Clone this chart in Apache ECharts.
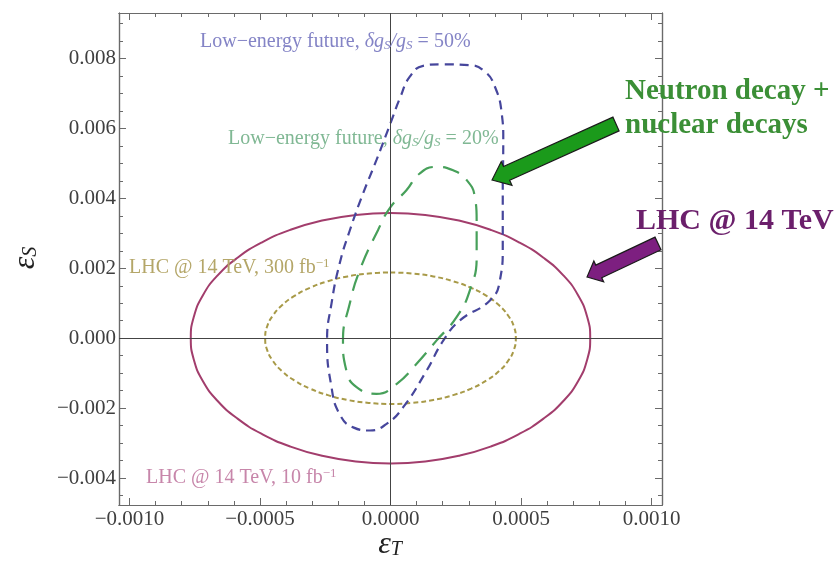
<!DOCTYPE html>
<html><head><meta charset="utf-8">
<script src="https://cdn.jsdelivr.net/npm/echarts@6/dist/echarts.min.js"></script>
<style>html,body{margin:0;padding:0;background:#fff}#c{width:840px;height:566px}</style>
</head><body><div id="c"></div>
<script>
// ---- axis ticks / labels ----
const xMajorTicks = [-0.001, -0.0005, 0, 0.0005, 0.001];
const xTickLabels = ["\u22120.0010", "\u22120.0005", "0.0000", "0.0005", "0.0010"];
const xMinorTicks = [-0.001,-0.0009,-0.0008,-0.0007,-0.0006,-0.0005,-0.0004,-0.0003,-0.0002,-0.0001,0,
  0.0001,0.0002,0.0003,0.0004,0.0005,0.0006,0.0007,0.0008,0.0009,0.001];
const yMajorTicks = [-0.004, -0.002, 0, 0.002, 0.004, 0.006, 0.008];
const yTickLabels = ["\u22120.004", "\u22120.002", "0.000", "0.002", "0.004", "0.006", "0.008"];
const yMinorTicks = [-0.0045,-0.004,-0.0035,-0.003,-0.0025,-0.002,-0.0015,-0.001,-0.0005,0,
  0.0005,0.001,0.0015,0.002,0.0025,0.003,0.0035,0.004,0.0045,0.005,0.0055,0.006,0.0065,0.007,0.0075,0.008,0.0085,0.009];
const xRange = [-0.00104, 0.00104];
const yRange = [-0.00477, 0.0093];

// ---- contours ----
const lhc10 = [[0,0.00358],[0.000133,0.003526],[0.000262,0.003364],[0.000383,0.0031],[0.000492,0.002742],[0.000586,0.002301],
  [0.000663,0.00179],[0.000719,0.001224],[0.000753,0.000622],[0.000765,0],[0.000753,-0.000622],[0.000719,-0.001224],
  [0.000663,-0.00179],[0.000586,-0.002301],[0.000492,-0.002742],[0.000383,-0.0031],[0.000262,-0.003364],[0.000133,-0.003526],
  [0,-0.00358],[-0.000133,-0.003526],[-0.000262,-0.003364],[-0.000383,-0.0031],[-0.000492,-0.002742],[-0.000586,-0.002301],
  [-0.000663,-0.00179],[-0.000719,-0.001224],[-0.000753,-0.000622],[-0.000765,0],[-0.000753,0.000622],[-0.000719,0.001224],
  [-0.000663,0.00179],[-0.000586,0.002301],[-0.000492,0.002742],[-0.000383,0.0031],[-0.000262,0.003364],[-0.000133,0.003526],
  [0,0.00358]];
const lhc300 = [[0,0.00188],[0.0000833,0.001851],[0.000164,0.001767],[0.00024,0.001628],[0.000309,0.00144],[0.000368,0.001208],
  [0.000416,0.00094],[0.000451,0.000643],[0.000473,0.000326],[0.00048,0],[0.000473,-0.000326],[0.000451,-0.000643],
  [0.000416,-0.00094],[0.000368,-0.001208],[0.000309,-0.00144],[0.00024,-0.001628],[0.000164,-0.001767],[0.0000833,-0.001851],
  [0,-0.00188],[-0.0000833,-0.001851],[-0.000164,-0.001767],[-0.00024,-0.001628],[-0.000309,-0.00144],[-0.000368,-0.001208],
  [-0.000416,-0.00094],[-0.000451,-0.000643],[-0.000473,-0.000326],[-0.00048,0],[-0.000473,0.000326],[-0.000451,0.000643],
  [-0.000416,0.00094],[-0.000368,0.001208],[-0.000309,0.00144],[-0.00024,0.001628],[-0.000164,0.001767],[-0.0000833,0.001851],
  [0,0.00188]];
const lowE50 = [[0.00043,0.0045],[0.00043,0.0036],[0.00043,0.0026],[0.000419,0.00165],[0.000381,0.00108],[0.000266,0.00051],
  [0.000202,-0.00007],[0.000138,-0.00093],[0.000048,-0.00198],[-0.000015,-0.00245],[-0.000079,-0.00264],[-0.000143,-0.00255],
  [-0.000195,-0.00217],[-0.000226,-0.0014],[-0.000243,-0.00007],[-0.000226,0.00099],[-0.000195,0.00213],[-0.000156,0.00308],
  [-0.000105,0.00414],[-0.000054,0.00509],[0,0.00615],[0.000038,0.0069],[0.000074,0.00748],[0.000125,0.00779],
  [0.000189,0.00783],[0.000304,0.00781],[0.000362,0.00762],[0.0004,0.00719],[0.000426,0.00643],[0.000432,0.00566],[0.00043,0.0045]];
const lowE20 = [[0.00033,0.003],[0.00033,0.00232],[0.000304,0.00137],[0.000253,0.0006],[0.000176,-0.00007],[0.0001,-0.00073],
  [0.000023,-0.00131],[-0.000054,-0.00159],[-0.00013,-0.0014],[-0.000169,-0.00093],[-0.000182,-0.00007],[-0.000156,0.00099],
  [-0.000118,0.00194],[-0.000048,0.00309],[0,0.00375],[0.000061,0.00423],[0.000112,0.00471],[0.000176,0.0049],
  [0.00024,0.0048],[0.000292,0.00452],[0.000323,0.00404],[0.00033,0.00337],[0.00033,0.003]];

const SERIF = "'Liberation Serif', 'DejaVu Serif', serif";
const FRAME = '#6a6a6a';

function fmt(vals, labels) {
  return function (v) {
    for (let i = 0; i < vals.length; i++) if (Math.abs(vals[i] - v) < 1e-9) return labels[i];
    return '';
  };
}
function xAx(pos, ticks, len, labels) {
  return {
    type: 'value', gridIndex: 0, position: pos, min: xRange[0], max: xRange[1],
    axisLine: { show: true, onZero: false, lineStyle: { color: FRAME, width: 1.2 } },
    axisTick: { show: true, inside: true, length: len, customValues: ticks, lineStyle: { color: FRAME, width: 1 } },
    axisLabel: labels ? { show: true, customValues: xMajorTicks, formatter: fmt(xMajorTicks, xTickLabels),
      fontFamily: SERIF, fontSize: 21, color: '#3f3f3f', margin: 4 } : { show: false },
    splitLine: { show: false }
  };
}
function yAx(pos, ticks, len, labels) {
  return {
    type: 'value', gridIndex: 0, position: pos, min: yRange[0], max: yRange[1],
    axisLine: { show: true, onZero: false, lineStyle: { color: FRAME, width: 1.2 } },
    axisTick: { show: true, inside: true, length: len, customValues: ticks, lineStyle: { color: FRAME, width: 1 } },
    axisLabel: labels ? { show: true, customValues: yMajorTicks, formatter: fmt(yMajorTicks, yTickLabels),
      fontFamily: SERIF, fontSize: 21, color: '#3f3f3f', margin: 3 } : { show: false },
    splitLine: { show: false }
  };
}
function contour(name, data, color, width, dash, extra) {
  return Object.assign({
    name: name, type: 'line', data: data, showSymbol: false, smooth: 0.5, xAxisIndex: 0, yAxisIndex: 0,
    lineStyle: { color: color, width: width, type: dash }, silent: true
  }, extra || {});
}
function arrow(tip, tail, hw, headW, headL, fill) {
  const dx = tail[0] - tip[0], dy = tail[1] - tip[1], L = Math.hypot(dx, dy);
  const u = [dx / L, dy / L], n = [-u[1], u[0]];
  const b = [tip[0] + u[0] * headL, tip[1] + u[1] * headL];
  const pts = [tip,
    [b[0] + n[0] * headW, b[1] + n[1] * headW], [b[0] + n[0] * hw, b[1] + n[1] * hw],
    [tail[0] + n[0] * hw, tail[1] + n[1] * hw], [tail[0] - n[0] * hw, tail[1] - n[1] * hw],
    [b[0] - n[0] * hw, b[1] - n[1] * hw], [b[0] - n[0] * headW, b[1] - n[1] * headW]];
  return { type: 'polygon', shape: { points: pts }, style: { fill: fill, stroke: '#1a1a1a', lineWidth: 1.2 }, z: 100 };
}
function lbl(x, y, rich, parts) {
  return { type: 'text', x: x, y: y, z: 100, style: { text: parts, rich: rich, textVerticalAlign: 'middle', font: '20px ' + SERIF } };
}
function curveRich(color, fs) {
  const sfs = Math.round(fs * 0.65);
  return {
    n: { fontFamily: SERIF, fontSize: fs, fill: color, color: color },
    i: { fontFamily: SERIF, fontSize: fs, fontStyle: 'italic', fill: color, color: color },
    s: { fontFamily: SERIF, fontSize: sfs, fontStyle: 'italic', fill: color, color: color, padding: [8, 0, 0, 0] },
    p: { fontFamily: SERIF, fontSize: sfs, fill: color, color: color, padding: [0, 0, 8, 0] }
  };
}

const chart = echarts.init(document.getElementById('c'), null, { renderer: 'canvas' });
const option = {
  animation: false,
  backgroundColor: '#ffffff',
  grid: { left: 119, top: 13, width: 543, height: 492, containLabel: false },
  xAxis: [xAx('bottom', xMajorTicks, 7, true), xAx('bottom', xMinorTicks, 4, false),
          xAx('top', xMajorTicks, 7, false), xAx('top', xMinorTicks, 4, false)],
  yAxis: [yAx('left', yMajorTicks, 7, true), yAx('left', yMinorTicks, 4, false),
          yAx('right', yMajorTicks, 7, false), yAx('right', yMinorTicks, 4, false)],
  series: [
    contour('LHC 10', lhc10, '#a23d6c', 2, 'solid', {
      markLine: { silent: true, symbol: 'none', label: { show: false },
        lineStyle: { color: '#444', width: 1, type: 'solid' }, data: [{ xAxis: 0 }, { yAxis: 0 }] }
    }),
    contour('LHC 300', lhc300, '#a89a48', 2, [5, 3]),
    contour('Low-energy 50%', lowE50, '#46469c', 2.2, [9, 6]),
    contour('Low-energy 20%', lowE20, '#47a05a', 2.2, [17, 10])
  ],
  graphic: [
    lbl(200, 42, curveRich('#8484c6', 20), '{n|Low\u2212energy future, }{i|\u03b4g}{s|S}{i|/g}{s|S}{n| = 50%}'),
    lbl(228, 139, curveRich('#80b894', 20), '{n|Low\u2212energy future, }{i|\u03b4g}{s|S}{i|/g}{s|S}{n| = 20%}'),
    lbl(129, 268, curveRich('#b4a668', 20), '{n|LHC @ 14 TeV, 300 fb}{p|\u22121}'),
    lbl(146, 478, curveRich('#c786aa', 20), '{n|LHC @ 14 TeV, 10 fb}{p|\u22121}'),
    { type: 'text', x: 625, y: 92, z: 100, style: { text: 'Neutron decay +', font: 'bold 29px ' + SERIF, fill: '#3b8f36', textVerticalAlign: 'middle' } },
    { type: 'text', x: 625, y: 126, z: 100, style: { text: 'nuclear decays', font: 'bold 29px ' + SERIF, fill: '#3b8f36', textVerticalAlign: 'middle' } },
    { type: 'text', x: 636, y: 221, z: 100, style: { text: 'LHC @ 14 TeV', font: 'bold 30px ' + SERIF, fill: '#6b1f6b', textVerticalAlign: 'middle' } },
    arrow([492, 180], [616, 124], 7.5, 13, 16, '#1b9a1b'),
    arrow([587, 277], [658, 243.5], 7, 11.5, 13, '#7d1f80'),
    { type: 'text', x: 390, y: 545, z: 100, style: { text: '{e|\u03b5}{s|T}', textAlign: 'center', textVerticalAlign: 'middle',
      rich: { e: { fontFamily: SERIF, fontSize: 32, fontStyle: 'italic', fill: '#222' },
              s: { fontFamily: SERIF, fontSize: 20, fontStyle: 'italic', fill: '#222', padding: [10, 0, 0, 0] } } } },
    { type: 'text', x: 26, y: 258, rotation: Math.PI / 2, z: 100, style: { text: '{e|\u03b5}{s|S}', textAlign: 'center', textVerticalAlign: 'middle',
      rich: { e: { fontFamily: SERIF, fontSize: 32, fontStyle: 'italic', fill: '#222' },
              s: { fontFamily: SERIF, fontSize: 20, fontStyle: 'italic', fill: '#222', padding: [10, 0, 0, 0] } } } }
  ]
};
chart.setOption(option);
</script></body></html>
